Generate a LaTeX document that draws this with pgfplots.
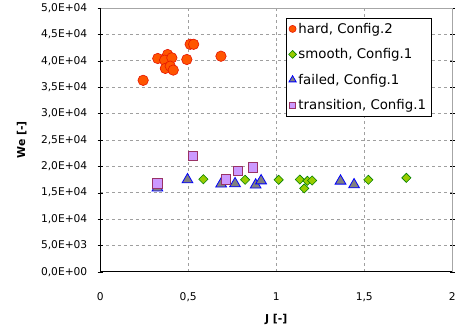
\documentclass[border=0pt]{standalone}
\usepackage{pgfplots}
\pgfplotsset{compat=1.18}
\usepackage{fontspec}
\setmainfont{DejaVu Sans}
\definecolor{hardfill}{RGB}{255,85,0}
\definecolor{hardedge}{RGB}{230,20,0}
\definecolor{smfill}{RGB}{153,204,0}
\definecolor{smedge}{RGB}{0,128,0}
\definecolor{trfill}{RGB}{204,153,255}
\definecolor{tredge}{RGB}{153,51,102}
\pgfplotsset{smallleg/.style={legend image code/.code={\draw[##1, mark size=#1] plot coordinates {(0.25cm,0cm)};}}}
\begin{document}
\begin{tikzpicture}
\begin{axis}[
  scale only axis,
  width=355bp, height=266bp,
  xmin=0, xmax=2, ymin=0, ymax=50000,
  xtick={0,0.5,1,1.5,2},
  xticklabels={0,{0,5},1,{1,5},2},
  ytick={0,5000,10000,15000,20000,25000,30000,35000,40000,45000,50000},
  yticklabels={{0,0E+00},{5,0E+03},{1,0E+04},{1,5E+04},{2,0E+04},{2,5E+04},{3,0E+04},{3,5E+04},{4,0E+04},{4,5E+04},{5,0E+04}},
  ticklabel style={font=\fontsize{10.8}{12}\selectfont},
  xticklabel style={anchor=base, yshift=-29bp},
  yticklabel style={anchor=east, xshift=-7bp},
  scaled ticks=false,
  xlabel={\textbf{J [-]}}, ylabel={\textbf{We [-]}},
  label style={font=\fontsize{11}{13}\selectfont},
  xlabel style={at={(axis description cs:0.5,0)}, anchor=center, yshift=-48bp},
  ylabel style={at={(axis description cs:-0.2225,0.5)}, anchor=center},
  grid=major,
  major grid style={gray!75, dashed, line width=0.6pt},
  axis line style={draw=none},
  tick style={black},
  xtick style={draw=none},
  ytick align=center,
  major tick length=5pt,
  legend style={at={(0.94,0.962)}, anchor=north east, draw=black, font=\fontsize{13.5}{16}\selectfont, row sep=10pt, inner sep=3pt},
  legend cell align=left,
  clip=false,
]
\path (rel axis cs:0,0) ++(-101bp,-61bp) (rel axis cs:1,1) ++(3bp,8bp);
\draw[gray!70, line width=0.8pt] (rel axis cs:0,1) -- (rel axis cs:1,1) -- (rel axis cs:1,0);
\draw[black, line width=0.8pt] (rel axis cs:0,1) -- (rel axis cs:0,0) -- (rel axis cs:1,0);
\addplot[only marks, smallleg=3.6pt, mark=*, mark size=5.3pt, mark options={fill=hardfill, draw=hardedge, line width=0.6pt}] coordinates {
(0.244,36280) (0.327,40420) (0.383,41170) (0.366,40100) (0.407,40550) (0.370,38540) (0.398,38970) (0.415,38220) (0.492,40230) (0.511,43110) (0.531,43110) (0.686,40850)};
\addlegendentry{hard, Config.2}
\addplot[only marks, smallleg=2.8pt, mark=square*, mark size=3.3pt, mark options={rotate=45, fill=smfill, draw=smedge, line width=0.6pt}] coordinates {
(0.586,17540) (0.823,17430) (1.014,17430) (1.134,17480) (1.159,15790) (1.177,17240) (1.204,17300) (1.523,17430) (1.739,17800)};
\addlegendentry{smooth, Config.1}
\addplot[only marks, smallleg=4.2pt, mark=triangle*, mark size=6.3pt, mark options={fill=gray, draw=blue, line width=0.8pt}] coordinates {
(0.325,15900) (0.496,17450) (0.687,16650) (0.766,16700) (0.883,16450) (0.914,17250) (1.365,17200) (1.442,16500)};
\addlegendentry{failed, Config.1}
\addplot[only marks, smallleg=3.3pt, mark=square*, mark size=4.8pt, mark options={fill=trfill, draw=tredge, line width=0.8pt}] coordinates {
(0.325,16730) (0.528,22000) (0.715,17540) (0.781,19120) (0.866,19740)};
\addlegendentry{transition, Config.1}
\end{axis}
\end{tikzpicture}
\end{document}
